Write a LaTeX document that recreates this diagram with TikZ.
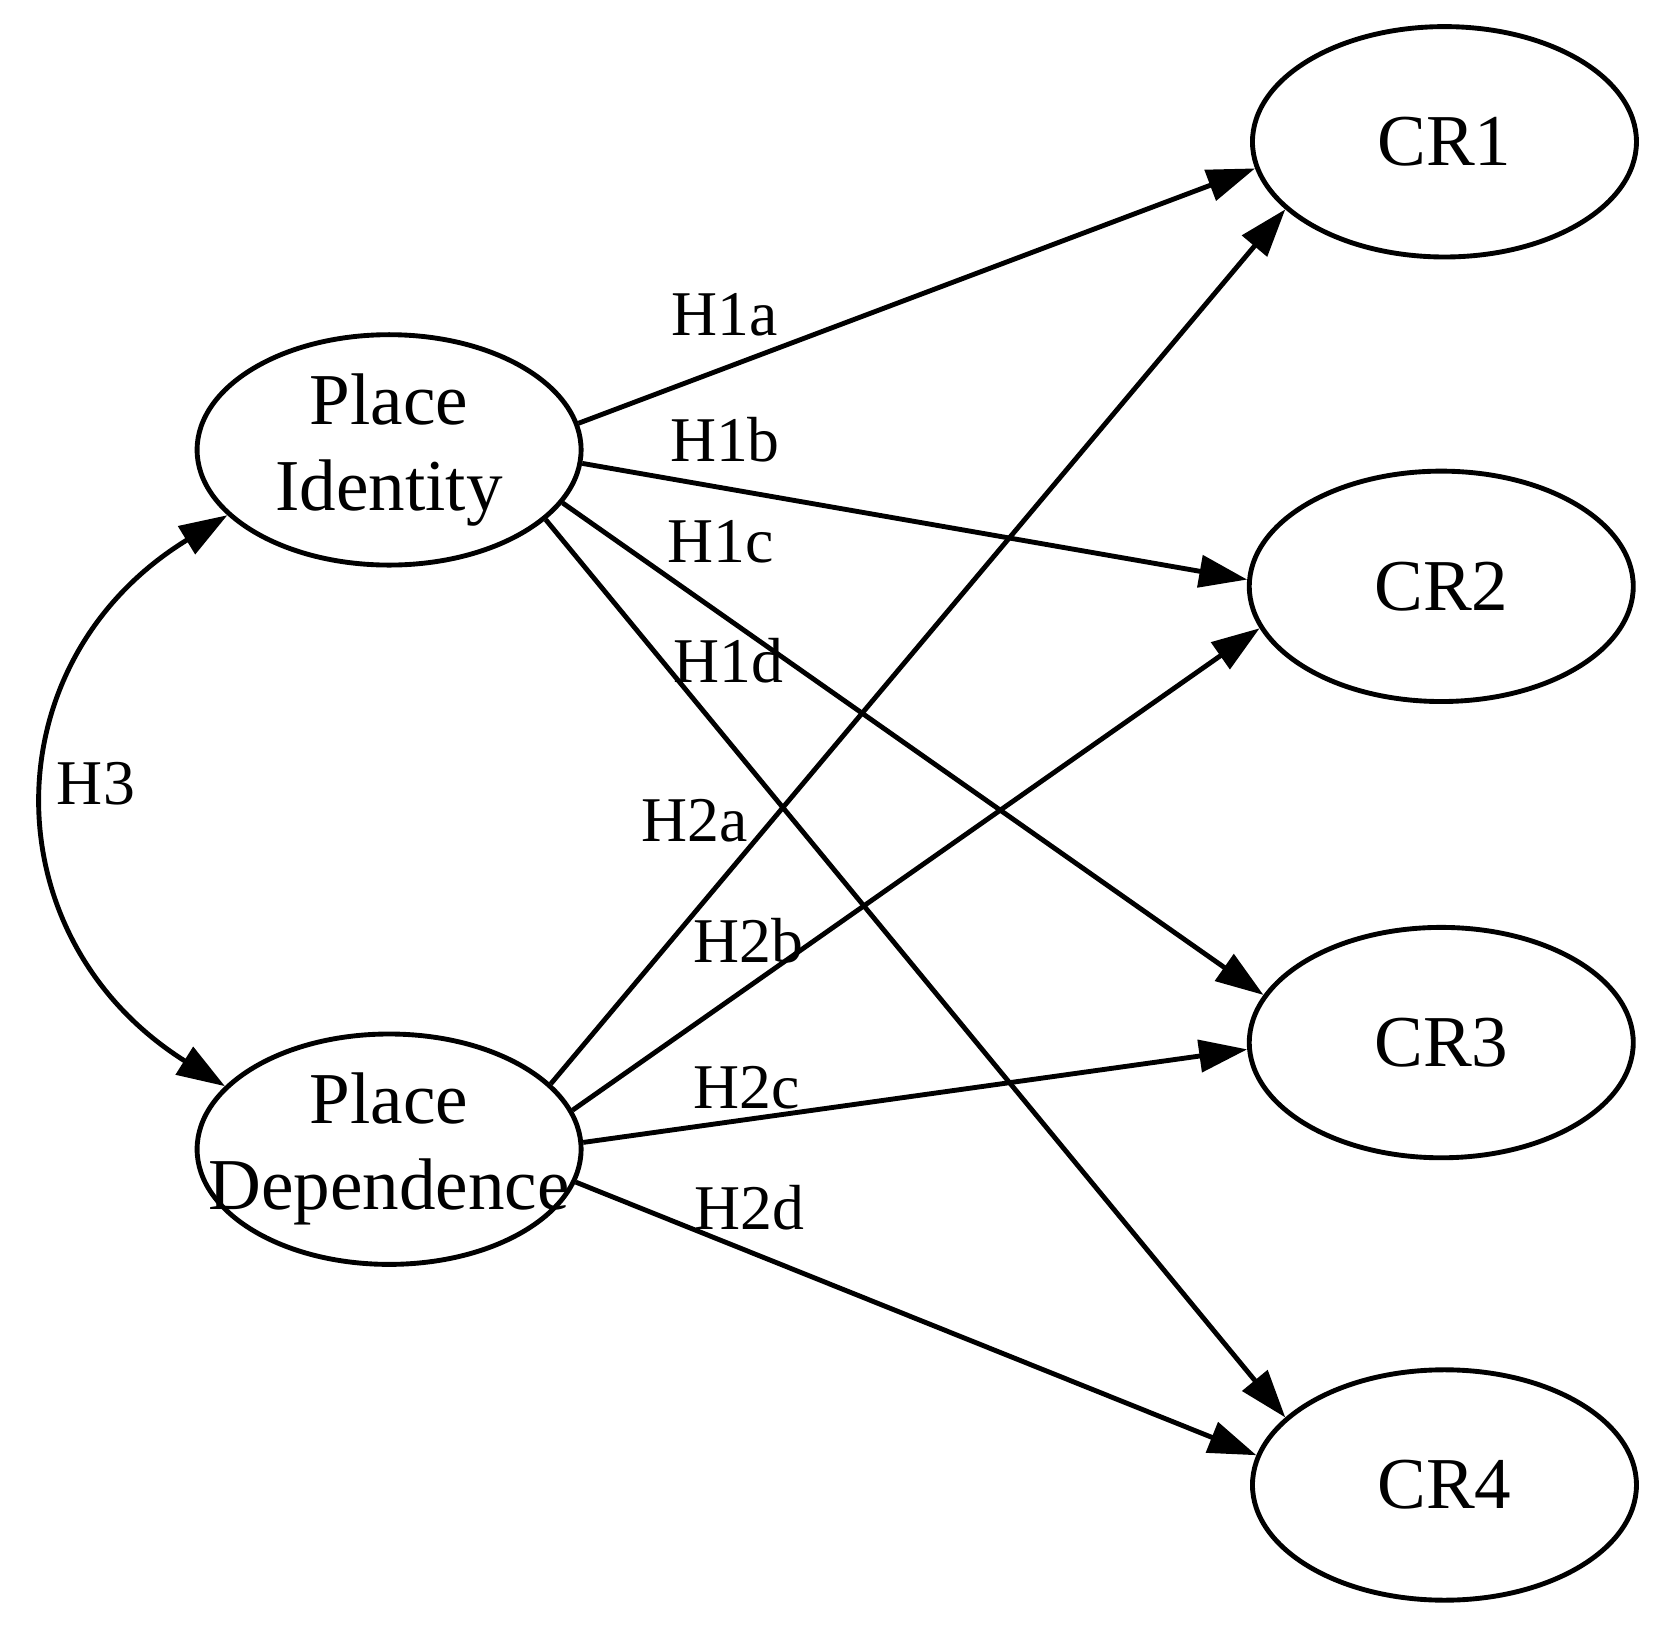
\documentclass[tikz,border=0pt]{standalone}
\usepackage{fontspec}
\setmainfont{Liberation Serif}
\usetikzlibrary{shapes.geometric,arrows.meta}
\begin{document}
\begin{tikzpicture}[x=0.01cm,y=-0.01cm,
  lat/.style={ellipse,draw,line width=1.3pt,minimum width=3.6cm,minimum height=2.16cm,inner sep=0pt,font=\fontsize{19.5}{23}\selectfont,align=center},
  arr/.style={line width=1.3pt,-{Triangle[length=0.45cm,width=0.3cm]}},
  lab/.style={font=\fontsize{17}{19}\selectfont}]
\useasboundingbox (0,0) rectangle (1560,1529);
\node[lat] (PI) at (365,422) {Place\\Identity};
\node[lat,inner xsep=-0.6cm] (PD) at (365,1078) {Place\\Dependence};
\node[lat] (C1) at (1355,133) {CR1};
\node[lat] (C2) at (1352,550) {CR2};
\node[lat] (C3) at (1352,978) {CR3};
\node[lat] (C4) at (1355,1393) {CR4};
\draw[arr] (PI.8) -- (C1.188.5);
\draw[arr] (PI.-4) -- (C2.178);
\draw[arr] (PI.-17) -- (C3.165);
\draw[arr] (PI.-24) -- (C4.157);
\draw[arr] (PD.22) -- (C1.203);
\draw[arr] (PD.12.6) -- (C2.193.5);
\draw[arr] (PD.2.5) -- (C3.182);
\draw[arr] (PD.-10) -- (C4.171);
\draw[line width=1.3pt,{Triangle[length=0.45cm,width=0.3cm]}-{Triangle[length=0.45cm,width=0.3cm]}] (PI.202) .. controls (-10,620) and (-10,880) .. (PD.159);
\node[lab] (l1a) at (680,295) {H1a};
\node[lab] (l1b) at (680,412) {H1b};
\node[lab] (l1c) at (676,508) {H1c};
\node[lab] (l1d) at (683,620) {H1d};
\node[lab] (l2a) at (652,770) {H2a};
\node[lab] (l2b) at (702,882) {H2b};
\node[lab] (l2c) at (700,1020) {H2c};
\node[lab] (l2d) at (703,1133) {H2d};
\node[lab] (l3) at (90,735) {H3};
\end{tikzpicture}
\end{document}
